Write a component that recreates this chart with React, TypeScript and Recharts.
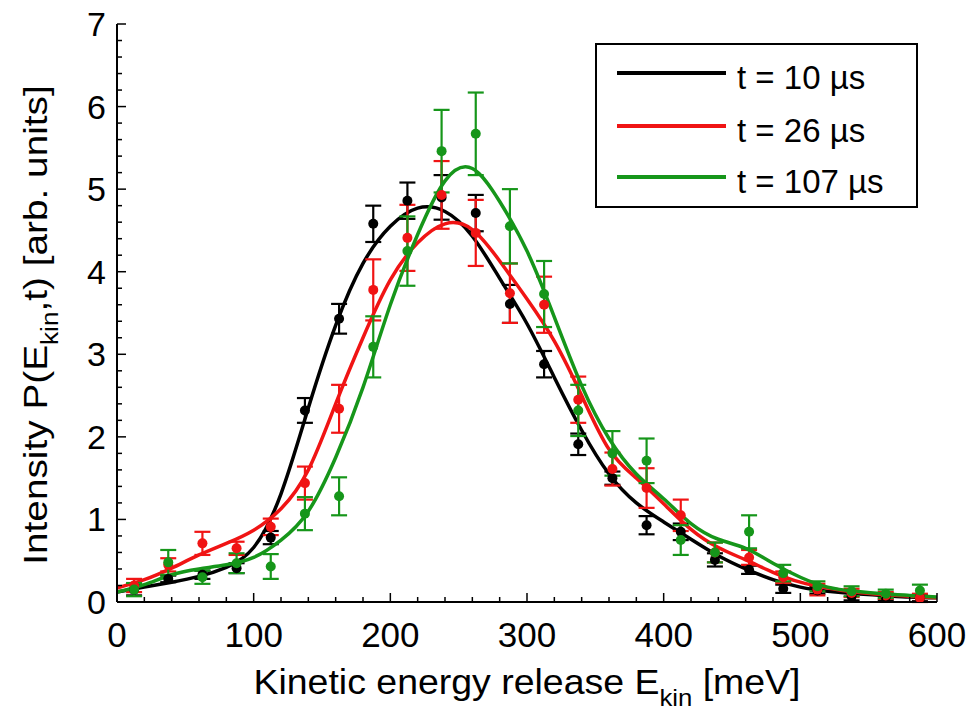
import React from 'react';
import { ComposedChart, Line, XAxis, YAxis, ErrorBar, Legend } from 'recharts';

// fitted curves, sampled every 20 meV
const curveE = [0, 20, 40, 60, 80, 100, 120, 140, 160, 180, 200, 220, 240, 260, 280, 300, 320, 340, 360, 380, 400, 420, 440, 460, 480, 500, 520, 540, 560, 580, 600];
const fit10 = [0.12, 0.18, 0.24, 0.31, 0.42, 0.66, 1.31, 2.35, 3.35, 4.1, 4.55, 4.77, 4.73, 4.43, 3.92, 3.37, 2.72, 2.08, 1.55, 1.2, 0.97, 0.76, 0.56, 0.4, 0.27, 0.18, 0.13, 0.1, 0.08, 0.06, 0.05];
const fit26 = [0.17, 0.27, 0.41, 0.57, 0.71, 0.87, 1.13, 1.6, 2.4, 3.2, 3.9, 4.35, 4.58, 4.51, 4.13, 3.67, 3.16, 2.5, 1.85, 1.5, 1.19, 0.88, 0.66, 0.51, 0.36, 0.24, 0.17, 0.12, 0.09, 0.07, 0.05];
const fit107 = [0.12, 0.21, 0.33, 0.4, 0.45, 0.54, 0.75, 1.1, 1.75, 2.6, 3.6, 4.45, 5.1, 5.25, 4.85, 4.25, 3.45, 2.62, 1.98, 1.55, 1.25, 0.95, 0.76, 0.65, 0.47, 0.3, 0.18, 0.13, 0.1, 0.08, 0.06];

// measured points with error bars
const pointE = [12.5, 37.5, 62.5, 87.5, 112.5, 137.5, 162.5, 187.5, 212.5, 237.5, 262.5, 287.5, 312.5, 337.5, 362.5, 387.5, 412.5, 437.5, 462.5, 487.5, 512.5, 537.5, 562.5, 587.5];
const meas10 = [0.15, 0.28, 0.33, 0.41, 0.78, 2.32, 3.43, 4.58, 4.86, 4.9, 4.71, 3.61, 2.88, 1.91, 1.5, 0.93, 0.85, 0.51, 0.39, 0.16, 0.14, 0.07, 0.06, 0.05];
const err10 = [0.07, 0.04, 0.05, 0.06, 0.08, 0.15, 0.18, 0.22, 0.22, 0.27, 0.22, 0.23, 0.16, 0.13, 0.08, 0.11, 0.1, 0.08, 0.05, 0.05, 0.04, 0.05, 0.04, 0.04];
const meas26 = [0.2, 0.45, 0.71, 0.65, 0.91, 1.44, 2.34, 3.78, 4.41, 4.93, 4.47, 3.74, 3.6, 2.45, 1.61, 1.38, 1.05, 0.6, 0.54, 0.3, 0.15, 0.11, 0.08, 0.05];
const err26 = [0.08, 0.08, 0.14, 0.08, 0.1, 0.2, 0.29, 0.37, 0.4, 0.41, 0.4, 0.36, 0.34, 0.28, 0.2, 0.24, 0.19, 0.12, 0.09, 0.07, 0.07, 0.05, 0.04, 0.05];
const meas107 = [0.15, 0.48, 0.3, 0.47, 0.43, 1.07, 1.28, 3.09, 4.25, 5.46, 5.67, 4.55, 3.73, 2.32, 1.8, 1.71, 0.75, 0.6, 0.85, 0.35, 0.19, 0.13, 0.1, 0.14];
const err107 = [0.08, 0.15, 0.08, 0.12, 0.15, 0.2, 0.23, 0.37, 0.42, 0.5, 0.5, 0.45, 0.4, 0.31, 0.27, 0.27, 0.18, 0.12, 0.2, 0.1, 0.06, 0.06, 0.05, 0.07];

const seriesNames = ['t = 10 \u00b5s', 't = 26 \u00b5s', 't = 107 \u00b5s'];
const seriesColors = ['#000000', '#f01414', '#16961a'];

const xTicks = [0, 20, 40, 60, 80, 100, 120, 140, 160, 180, 200, 220, 240, 260, 280, 300, 320, 340, 360, 380, 400, 420, 440, 460, 480, 500, 520, 540, 560, 580, 600];
const yTicks = [0, 0.2, 0.4, 0.6, 0.8, 1, 1.2, 1.4, 1.6, 1.8, 2, 2.2, 2.4, 2.6, 2.8, 3, 3.2, 3.4, 3.6, 3.8, 4, 4.2, 4.4, 4.6, 4.8, 5, 5.2, 5.4, 5.6, 5.8, 6, 6.2, 6.4, 6.6, 6.8, 7];

const FONT = '"Liberation Sans", Arial, Helvetica, sans-serif';

const curve = (vals: number[]) => curveE.map((e, i) => ({ e, v: vals[i] }));
const points = (vals: number[], errs: number[]) => pointE.map((e, i) => ({ e, v: vals[i], err: errs[i] }));

const fits = [curve(fit10), curve(fit26), curve(fit107)];
const meas = [points(meas10, err10), points(meas26, err26), points(meas107, err107)];

const isMajorX = (v: number) => v % 100 === 0;
const isMajorY = (v: number) => Math.abs(v - Math.round(v)) < 1e-6;

function BottomTick(props: any) {
  const { x, y, payload } = props;
  const major = isMajorX(payload.value);
  return (
    <g>
      <line x1={x} x2={x} y1={y} y2={y - (major ? 9 : 5)} stroke="#000" strokeWidth={1.5} />
      {major && (
        <text x={x} y={y + 45} textAnchor="middle" fontSize={35} fontFamily={FONT} fill="#000">
          {payload.value}
        </text>
      )}
    </g>
  );
}

function TopTick(props: any) {
  const { x, y, payload } = props;
  const major = isMajorX(payload.value);
  return <line x1={x} x2={x} y1={y} y2={y + (major ? 9 : 5)} stroke="#000" strokeWidth={1.5} />;
}

function LeftTick(props: any) {
  const { x, y, payload } = props;
  const major = isMajorY(payload.value);
  return (
    <g>
      <line x1={x} x2={x + (major ? 9 : 5)} y1={y} y2={y} stroke="#000" strokeWidth={1.5} />
      {major && (
        <text x={x - 11} y={y + 12} textAnchor="end" fontSize={34} fontFamily={FONT} fill="#000">
          {Math.round(payload.value)}
        </text>
      )}
    </g>
  );
}

function RightTick(props: any) {
  const { x, y, payload } = props;
  const major = isMajorY(payload.value);
  return <line x1={x} x2={x - (major ? 9 : 5)} y1={y} y2={y} stroke="#000" strokeWidth={1.5} />;
}

function LegendBox() {
  return (
    <div
      style={{
        width: 323,
        height: 165,
        boxSizing: 'border-box',
        border: '2px solid #000',
        background: '#fff',
        position: 'relative',
        fontFamily: FONT,
      }}
    >
      {seriesNames.map((name, i) => (
        <div
          key={name}
          style={{ position: 'absolute', left: 20, top: [28, 81, 132][i] - 20, height: 40, display: 'flex', alignItems: 'center' }}
        >
          <div style={{ width: 109, height: 4, background: seriesColors[i] }} />
          <span style={{ marginLeft: 11, fontSize: 33, lineHeight: '40px', position: 'relative', top: 5, color: '#000', whiteSpace: 'nowrap' }}>
            {name}
          </span>
        </div>
      ))}
    </div>
  );
}

export default function App() {
  const axisLine = { stroke: '#000', strokeWidth: 2 };
  return (
    <div style={{ position: 'absolute', left: 0, top: 0, width: 971, height: 713, background: '#fff', fontFamily: FONT }}>
      <ComposedChart width={971} height={713} margin={{ top: 24, right: 34, bottom: 0, left: 0 }}>
        <XAxis
          dataKey="e"
          type="number"
          domain={[0, 600]}
          ticks={xTicks}
          interval={0}
          height={111}
          tickSize={0}
          tickMargin={0}
          tickLine={false}
          axisLine={axisLine}
          tick={<BottomTick />}
          allowDataOverflow
        />
        <XAxis
          xAxisId="top"
          orientation="top"
          dataKey="e"
          type="number"
          domain={[0, 600]}
          ticks={xTicks}
          interval={0}
          height={0}
          tickSize={0}
          tickMargin={0}
          tickLine={false}
          axisLine={axisLine}
          tick={<TopTick />}
          allowDataOverflow
        />
        <YAxis
          type="number"
          domain={[0, 7]}
          ticks={yTicks}
          interval={0}
          width={117}
          tickSize={0}
          tickMargin={0}
          tickLine={false}
          axisLine={axisLine}
          tick={<LeftTick />}
          allowDataOverflow
        />
        <YAxis
          yAxisId="right"
          orientation="right"
          type="number"
          domain={[0, 7]}
          ticks={yTicks}
          interval={0}
          width={0}
          tickSize={0}
          tickMargin={0}
          tickLine={false}
          axisLine={axisLine}
          tick={<RightTick />}
          allowDataOverflow
        />
        <Legend
          layout="vertical"
          align="center"
          verticalAlign="middle"
          content={() => <LegendBox />}
          wrapperStyle={{ left: 595, top: 43, width: 323, height: 165 }}
        />
        {seriesNames.map((name, i) => [
          <Line
            key={`pts-${i}`}
            data={meas[i]}
            dataKey="v"
            stroke="none"
            legendType="none"
            dot={{ r: 5, fill: seriesColors[i], stroke: 'none' }}
            activeDot={false}
            isAnimationActive={false}
          >
            <ErrorBar dataKey="err" direction="y" width={8} stroke={seriesColors[i]} strokeWidth={2.2} isAnimationActive={false} />
          </Line>,
          <Line
            key={`fit-${i}`}
            name={name}
            data={fits[i]}
            dataKey="v"
            type="natural"
            stroke={seriesColors[i]}
            strokeWidth={3.5}
            dot={false}
            activeDot={false}
            isAnimationActive={false}
          />,
        ])}
      </ComposedChart>
      <div
        style={{
          position: 'absolute',
          left: 527,
          top: 664,
          transform: 'translateX(-50%) scaleX(1.07)',
          fontSize: 35,
          lineHeight: '35px',
          whiteSpace: 'nowrap',
          color: '#000',
        }}
      >
        Kinetic energy release E
        <span style={{ fontSize: 24, position: 'relative', top: 12 }}>kin</span> [meV]
      </div>
      <div
        style={{
          position: 'absolute',
          left: 37,
          top: 325,
          transform: 'translate(-50%, -50%) rotate(-90deg) scaleX(1.14)',
          fontSize: 34,
          lineHeight: '34px',
          whiteSpace: 'nowrap',
          color: '#000',
        }}
      >
        Intensity P(E<span style={{ fontSize: 23, position: 'relative', top: 11 }}>kin</span>,t) [arb. units]
      </div>
    </div>
  );
}
